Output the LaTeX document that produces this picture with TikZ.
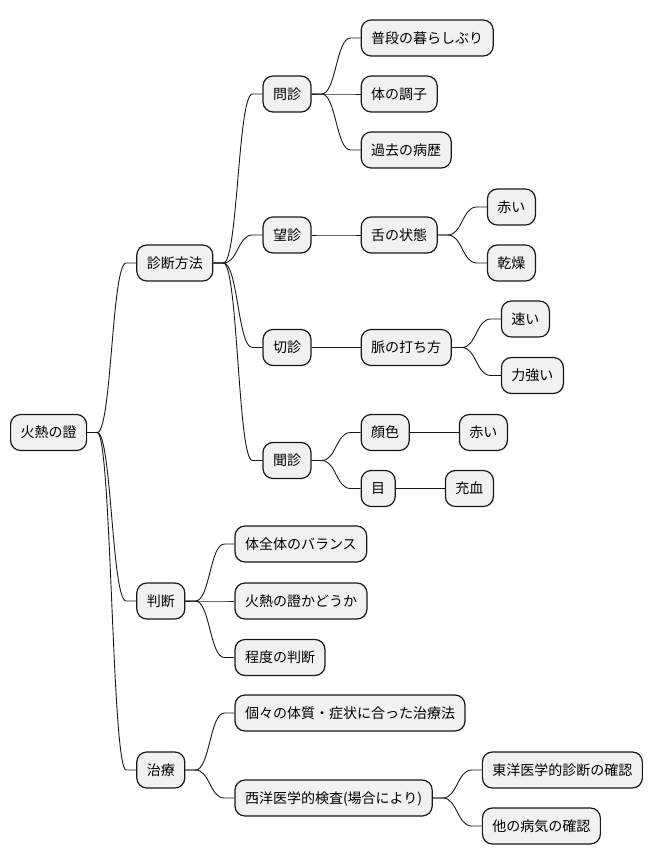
\documentclass[tikz,border=0pt]{standalone}
\usepackage{fontspec}
\setmainfont{Noto Sans CJK JP}
\usetikzlibrary{calc}
\definecolor{boxfill}{HTML}{F1F1F1}
\definecolor{ink}{HTML}{181818}
\tikzset{
  mmbox/.style={draw=ink, fill=boxfill, line width=1.2pt, rounded corners=10pt,
    minimum height=36pt, inner xsep=10pt, inner ysep=0pt,
    text height=11.3pt, text depth=0.7pt, anchor=west,
    font=\fontsize{14pt}{16pt}\selectfont},
  link/.style={draw=ink, line width=0.9pt}
}
% connector: short stub, S-curve, short stub
\newcommand\mmlink[2]{\draw[link] (#1.east) -- ++(10,0) .. controls +(14.5,0) and +(-14.5,0) .. ([xshift=-10pt]#2.west) -- (#2.west);}
% child placed 49 units right of its parent, dy below it
\newcommand\mmchild[4]{\node[mmbox] (#1) at ($(#2.east)+(49,#3)$) {#4};}
\begin{document}
\begin{tikzpicture}[x=1pt, y=-1pt]
\useasboundingbox (0,0) rectangle (653,865);

\node[mmbox] (root) at (10,432.5) {火熱の證};

% 診断方法
\mmchild{diag}{root}{-169.5}{診断方法}
\mmchild{mon}{diag}{-169}{問診}
\mmchild{mon1}{mon}{-56}{普段の暮らしぶり}
\mmchild{mon2}{mon}{0}{体の調子}
\mmchild{mon3}{mon}{56}{過去の病歴}
\mmchild{bou}{diag}{-28}{望診}
\mmchild{zet}{bou}{0}{舌の状態}
\mmchild{zet1}{zet}{-28}{赤い}
\mmchild{zet2}{zet}{28}{乾燥}
\mmchild{set}{diag}{84.5}{切診}
\mmchild{myk}{set}{0}{脈の打ち方}
\mmchild{myk1}{myk}{-28.5}{速い}
\mmchild{myk2}{myk}{28}{力強い}
\mmchild{bun}{diag}{197.5}{聞診}
\mmchild{kao}{bun}{-28}{顔色}
\mmchild{kao1}{kao}{0}{赤い}
\mmchild{me}{bun}{28}{目}
\mmchild{me1}{me}{0}{充血}

% 判断
\mmchild{han}{root}{168.5}{判断}
\mmchild{han1}{han}{-57}{体全体のバランス}
\mmchild{han2}{han}{0}{火熱の證かどうか}
\mmchild{han3}{han}{56.5}{程度の判断}

% 治療
\mmchild{chi}{root}{337.5}{治療}
\mmchild{chi1}{chi}{-57}{個々の体質・症状に合った治療法}
\mmchild{chi2}{chi}{28}{西洋医学的検査(場合により)}
\mmchild{chi21}{chi2}{-28}{東洋医学的診断の確認}
\mmchild{chi22}{chi2}{28}{他の病気の確認}

\mmlink{root}{diag}
\mmlink{diag}{mon}
\mmlink{mon}{mon1}
\mmlink{mon}{mon2}
\mmlink{mon}{mon3}
\mmlink{diag}{bou}
\mmlink{bou}{zet}
\mmlink{zet}{zet1}
\mmlink{zet}{zet2}
\mmlink{diag}{set}
\mmlink{set}{myk}
\mmlink{myk}{myk1}
\mmlink{myk}{myk2}
\mmlink{diag}{bun}
\mmlink{bun}{kao}
\mmlink{kao}{kao1}
\mmlink{bun}{me}
\mmlink{me}{me1}
\mmlink{root}{han}
\mmlink{han}{han1}
\mmlink{han}{han2}
\mmlink{han}{han3}
\mmlink{root}{chi}
\mmlink{chi}{chi1}
\mmlink{chi}{chi2}
\mmlink{chi2}{chi21}
\mmlink{chi2}{chi22}
\end{tikzpicture}
\end{document}
